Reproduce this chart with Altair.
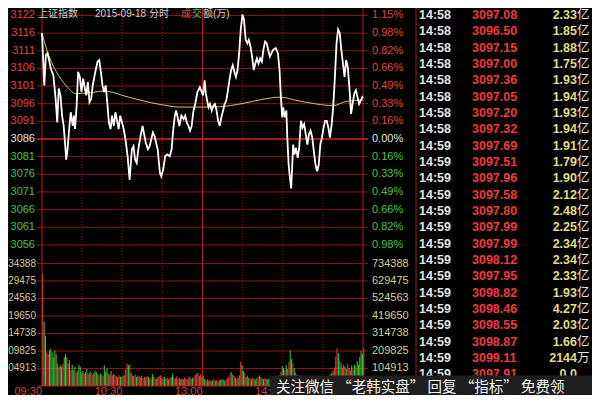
import altair as alt
import pandas as pd

W, H = 331, 378
GRID = "#8c1616"
GRID_ZERO = "#e01e1e"
BORDER = "#c01a1a"
RED = "#e0463e"
GREEN = "#47c447"
WHITE = "#e2e2e2"
KHAKI = "#d4cc98"
FONT = "Liberation Sans, Noto Sans CJK SC, sans-serif"
CJK = "Noto Sans CJK SC, sans-serif"

# ---------------- intraday price (minute from 09:30, index value) ----------------
price_min = [0, 1.7, 2.9, 4.1, 5.3, 6.5, 8.5, 10.2, 11.4, 12.5, 13.8, 15.0, 16.2, 17.4, 18.1, 19.1,
             20.5, 21.5, 23.0, 23.9, 24.7, 25.9, 27.0, 28.3, 29.5, 30.7, 31.9, 33.1, 34.3, 35.5,
             36.8, 37.9, 39.9, 41.5, 42.8, 44.0, 45.2, 46.4, 47.6, 48.8, 50.0, 51.3, 52.4, 53.7,
             54.9, 57.3, 58.5, 61.1, 62.4, 64.0, 65.5, 67.2, 68.4, 69.6, 70.8, 72.0, 73.7, 75.2,
             76.1, 77.6, 79.2, 80.5, 81.7, 82.9, 84.1, 85.3, 86.5, 87.2, 88.2, 89.2, 90.6, 92.1,
             93.7, 95.5, 96.9, 97.9, 99.3, 100.3, 101.7, 102.7, 104.2, 105.9, 107.1, 108.2, 109.5,
             110.7, 111.9, 113.1, 114.8, 116.2, 118.0, 120.4, 121.6, 122.5, 124.5, 125.6, 126.9,
             128.1, 129.3, 130.5, 131.7, 132.9, 134.1, 135.4, 136.5, 137.8, 139.0, 140.1, 141.4,
             142.6, 143.8, 145.0, 146.2, 147.4, 148.6, 149.9, 151.0, 152.3, 153.5, 154.6, 155.9,
             157.1, 158.3, 159.5, 160.7, 161.9, 163.1, 164.4, 165.5, 166.8, 168.0, 169.1, 170.4,
             171.6, 172.8, 174.7, 176.4, 177.6, 178.6, 179.6, 180.3, 181.5, 182.7, 183.4, 184.4,
             185.4, 186.3, 187.1, 187.8, 188.7, 189.9, 191.2, 192.3, 193.6, 194.8, 196.0, 197.2,
             198.4, 199.6, 200.8, 202.1, 203.2, 204.5, 205.7, 206.9, 208.1, 209.3, 210.5, 211.7,
             212.9, 214.1, 215.3, 216.6, 217.7, 219.0, 220.2, 221.4, 222.6, 223.8, 225.0, 226.2,
             227.4, 228.6, 229.8, 231.1, 232.2, 233.5, 234.7, 235.9, 237.1, 238.3, 239.5, 240]
price_val = [3116.9, 3101.6, 3110.5, 3111.0, 3109.0, 3106.6, 3104.6, 3097.7, 3090.8, 3100.7, 3098.7,
             3092.8, 3089.8, 3083.9, 3080.0, 3083.0, 3089.8, 3093.8, 3089.8, 3092.8, 3088.9, 3095.7,
             3105.6, 3104.1, 3099.7, 3103.6, 3101.1, 3098.7, 3102.6, 3096.7, 3097.7, 3101.6, 3105.6,
             3108.5, 3109.0, 3105.6, 3101.6, 3099.7, 3101.6, 3096.7, 3090.8, 3088.9, 3092.8, 3089.8,
             3093.8, 3088.9, 3092.8, 3088.9, 3085.9, 3081.0, 3074.1, 3083.0, 3083.9, 3080.0, 3079.0,
             3083.0, 3086.9, 3089.8, 3087.9, 3084.9, 3083.0, 3083.9, 3085.9, 3087.9, 3086.9, 3084.9,
             3083.0, 3080.0, 3076.1, 3075.1, 3077.1, 3081.0, 3081.5, 3081.0, 3083.0, 3087.9, 3092.8,
             3094.3, 3091.8, 3089.8, 3092.8, 3091.8, 3092.8, 3090.8, 3089.8, 3088.4, 3089.8, 3093.8,
             3096.7, 3099.7, 3101.1, 3098.7, 3103.1, 3099.2, 3095.2, 3096.2, 3094.3, 3095.7, 3096.2,
             3094.3, 3091.3, 3089.8, 3092.3, 3094.3, 3096.2, 3097.2, 3100.2, 3103.1, 3106.1, 3107.5,
             3105.6, 3104.1, 3106.1, 3111.0, 3117.9, 3122.3, 3120.8, 3114.9, 3113.9, 3114.9, 3112.9,
             3110.0, 3106.1, 3108.0, 3109.5, 3108.0, 3109.5, 3108.5, 3112.0, 3114.4, 3113.9, 3112.0,
             3110.0, 3111.0, 3112.0, 3112.5, 3111.0, 3106.1, 3098.2, 3092.3, 3095.2, 3092.3, 3094.3,
             3086.4, 3078.5, 3074.6, 3071.6, 3078.5, 3084.4, 3081.5, 3083.4, 3080.5, 3083.4, 3091.3,
             3089.3, 3090.3, 3087.4, 3084.4, 3087.4, 3088.4, 3086.4, 3082.5, 3078.5, 3076.6, 3078.5,
             3084.4, 3086.4, 3089.3, 3091.3, 3091.3, 3089.3, 3086.4, 3090.3, 3095.2, 3104.1, 3113.9,
             3117.9, 3116.9, 3112.0, 3108.0, 3104.1, 3109.0, 3107.0, 3101.1, 3093.3, 3096.2, 3099.2,
             3100.2, 3098.2, 3096.2, 3097.2, 3098.2, 3097.9]

avg_min = [0, 3.6, 8.2, 13.1, 19.1, 25.2, 31.2, 38.4, 45.7, 52.9, 60.2, 74.7, 89.2, 103.7, 120.4,
           132.7, 149.4, 166.8, 178.4, 190.7, 205.2, 217.5, 226.9, 240]
avg_val = [3116.9, 3112.0, 3107.5, 3104.1, 3101.1, 3099.2, 3099.3, 3099.6, 3100.0, 3099.6, 3098.7,
           3097.2, 3096.0, 3095.3, 3095.3, 3095.4, 3096.3, 3097.7, 3098.2, 3097.2, 3096.2, 3095.7,
           3096.9, 3097.4]

# ---------------- per-minute turnover (万) ----------------
vol = [31600, 18000, 14000, 9500, 9000, 10000, 10500, 9500, 8100, 10000,
       9000, 6300, 5400, 6000, 5400, 6300, 8100, 9000, 8100, 6300,
       7200, 4400, 6000, 4400, 5400, 3800, 4400, 6000, 5400, 3800,
       4200, 3500, 3900, 4800, 3300, 3700, 4100, 3200, 3600, 4300,
       3900, 3400, 3000, 3600, 3200, 2900, 5800, 4000, 5000, 3600,
       3200, 4200, 3000, 3400, 3100, 2800, 2600, 3000, 2700, 2500,
       2900, 3100, 4600, 6300, 5800, 6200, 3800, 3000, 2800, 3300,
       2600, 3000, 2700, 2400, 2900, 2200, 2600, 2300, 2800, 2500,
       2100, 2400, 3300, 2600, 2200, 2000, 2500, 2800, 3000, 2300,
       2100, 2500, 2000, 2300, 1900, 2200, 2600, 3300, 2400, 2100,
       2700, 2000, 2300, 1800, 2100, 1900, 2400, 2000, 1800, 2200,
       2600, 2000, 2300, 2700, 3100, 3500, 3700, 2900, 3300, 2600,
       3000, 2000, 1600, 1800, 1500, 1700, 1400, 1600, 1900, 1500,
       1700, 1300, 1800, 1600, 2000, 1700, 1500, 1800, 2200, 2600,
       3600, 3900, 3200, 2800, 2400, 2000, 2300, 3000, 6800, 5800,
       4200, 3800, 2600, 2900, 2300, 2100, 1900, 2400, 2100, 1800,
       2200, 2600, 3000, 2500, 2100, 1900, 2300, 2000, 1800, 2100,
       1900, 2200, 1800, 2400, 2000, 2300, 2600, 3000, 4000, 5600,
       5000, 4400, 5800, 4800, 6700, 10000, 7600, 6400, 5000, 3800,
       3200, 2800, 3000, 2600, 2400, 2800, 2200, 2500, 2300, 2000,
       2600, 2200, 2900, 2400, 2100, 2700, 2300, 2000, 2500, 2800,
       2400, 2200, 2600, 2300, 2900, 3200, 3600, 4200, 5200, 8200,
       10600, 9200, 7000, 6500, 5200, 6000, 5400, 4800, 6200, 5000,
       4400, 5800, 4600, 6000, 5400, 7000, 6000, 8200, 10000, 9000,
       10600]
vol_dir = ("rggrrgggrg" "grrggrgggr" "grgrgrrggr" "grggrrgrrg" "grrgrrgggr"
           "rgrgrrgrgr" "grrrgrgrgr" "grgrgrrgrg" "rrggrrgrrg" "rgrgrrggrg"
           "rrgrggrgrr" "grgrrrrgrg" "rgrgrgrgrg" "rgrggrgrrr" "rrgrgrgrrg"
           "grgrgrgrgr" "grrgrgrgrg" "rgrgrgrgrg" "grgrrggrgr" "grgrgrgrgr"
           "grgrgrgrgr" "grgrgrggrr" "rgrgrggrrg" "rgrgrggggg" "r")

# ---------------- axis levels & labels ----------------
price_levels = [3122.00, 3116.86, 3111.71, 3106.57, 3101.43, 3096.29, 3091.14, 3086.00,
                3080.86, 3075.71, 3070.57, 3065.43, 3060.29, 3055.14]
price_labels = ["3122", "3116", "3111", "3106", "3101", "3096", "3091", "3086",
                "3081", "3076", "3071", "3066", "3061", "3056"]
pct_labels = ["1.15%", "0.98%", "0.82%", "0.66%", "0.49%", "0.33%", "0.16%", "0.00%",
              "0.16%", "0.33%", "0.49%", "0.66%", "0.82%", "0.98%"]
level_side = ["up"] * 7 + ["flat"] + ["down"] * 6

vol_levels = [34388, 29475, 24563, 19650, 14738, 9825, 4913]
vol_left_labels = ["34388", "29475", "24563", "19650", "14738", "09825", "04913"]
vol_right_labels = ["734388", "629475", "524563", "419650", "314738", "209825", "104913"]

time_ticks = [0, 60, 120, 180]
time_labels = ["09:30", "10:30", "13:00", "14:00"]
dotted_minutes = [30, 60, 90, 150, 180, 210]
solid_minutes = [0, 120, 240]

# ---------------- tick table ----------------
tick_time = ["14:58"] * 8 + ["14:59"] * 15
tick_price = ["3097.08", "3096.50", "3097.15", "3097.00", "3097.36", "3097.05", "3097.20",
              "3097.32", "3097.69", "3097.51", "3097.96", "3097.58", "3097.80", "3097.99",
              "3097.99", "3098.12", "3097.95", "3098.82", "3098.46", "3098.55", "3098.87",
              "3099.11", "3097.91"]
tick_amount = ["2.33", "1.85", "1.88", "1.75", "1.93", "1.94", "1.93", "1.94", "1.91", "1.79",
               "1.90", "2.12", "2.48", "2.25", "2.34", "2.34", "2.33", "1.93", "4.27", "2.03",
               "1.66", "2144", "0.0"]
tick_unit = ["亿"] * 21 + ["万", ""]

SIDE_COLOR = {"up": RED, "flat": WHITE, "down": GREEN}
DIR_COLOR = {"r": "#ee3b3b", "g": "#3ec83e"}

# ---------------- data frames ----------------
df_price = pd.DataFrame({"m": price_min, "p": price_val})
df_avg = pd.DataFrame({"m": avg_min, "p": avg_val})
df_plev = pd.DataFrame({"lv": price_levels, "lab": price_labels, "pct": pct_labels,
                        "c": [SIDE_COLOR[s] for s in level_side],
                        "zero": [s == "flat" for s in level_side]})
df_vol = pd.DataFrame({"m": list(range(len(vol))), "v": vol,
                       "c": [DIR_COLOR[d] for d in vol_dir[:len(vol)]]})
df_vlev = pd.DataFrame({"lv": vol_levels, "l": vol_left_labels, "r": vol_right_labels})
df_time = pd.DataFrame({"m": time_ticks, "t": time_labels})
df_dot = pd.DataFrame({"m": dotted_minutes})
df_solid = pd.DataFrame({"m": solid_minutes})
df_tab = pd.DataFrame({"row": list(range(len(tick_time))), "t": tick_time, "p": tick_price,
                       "a": tick_amount, "u": tick_unit})
one = pd.DataFrame({"k": [0]})

XS = alt.Scale(domain=[0, 240], nice=False, zero=False)
PY = alt.Scale(domain=[3014.03, 3124.17], nice=False, zero=False)
VY = alt.Scale(domain=[0, 106112], nice=False, zero=False)
TY = alt.Scale(domain=[-0.4287, 22.72], nice=False, zero=False, reverse=True)

x_m = alt.X("m:Q", scale=XS, axis=None)

# ---------- price panel ----------
grid_p = alt.Chart(df_plev).transform_filter("!datum.zero").mark_rule(
    color=GRID, strokeWidth=1).encode(y=alt.Y("lv:Q", scale=PY, axis=None))
grid_p0 = alt.Chart(df_plev).transform_filter("datum.zero").mark_rule(
    color=GRID_ZERO, strokeWidth=1.6).encode(y=alt.Y("lv:Q", scale=PY, axis=None))
vgrid = alt.Chart(df_dot).mark_rule(color="#9a1a1a", strokeWidth=1, strokeDash=[1, 2]).encode(x=x_m)
vsolid = alt.Chart(df_solid).mark_rule(color=BORDER, strokeWidth=1).encode(x=x_m)
avg_line = alt.Chart(df_avg).mark_line(color="#cfc474", strokeWidth=1, interpolate="monotone").encode(
    x=x_m, y=alt.Y("p:Q", scale=PY, axis=None))
price_line = alt.Chart(df_price).mark_line(color="#ffffff", strokeWidth=1.8).encode(
    x=x_m, y=alt.Y("p:Q", scale=PY, axis=None))
lab_left = alt.Chart(df_plev).mark_text(align="right", baseline="middle", font=FONT, fontSize=11).encode(
    x=alt.value(-2), y=alt.Y("lv:Q", scale=PY, axis=None), text="lab:N",
    color=alt.Color("c:N", scale=None))
lab_right = alt.Chart(df_plev).mark_text(align="left", baseline="middle", font=FONT, fontSize=11).encode(
    x=alt.value(W + 4), y=alt.Y("lv:Q", scale=PY, axis=None), text="pct:N",
    color=alt.Color("c:N", scale=None))
time_lab = alt.Chart(df_time).mark_text(align="right", baseline="alphabetic", font=FONT, fontSize=11,
                                         color="#d8463c").encode(x=x_m, y=alt.value(H + 8.5), text="t:N")
TY0 = 1
t1 = alt.Chart(one).mark_text(text="上证指数", align="left", baseline="top", font=FONT,
                              fontSize=10, color="#d0d0d0").encode(x=alt.value(1), y=alt.value(TY0))
t2 = alt.Chart(one).mark_text(text="2015-09-18 分时", align="left", baseline="top", font=FONT,
                              fontSize=10, color="#d0d0d0").encode(x=alt.value(58), y=alt.value(TY0))
t3 = alt.Chart(one).mark_text(text="成", align="left", baseline="top", font=FONT,
                              fontSize=10, color=RED).encode(x=alt.value(144), y=alt.value(TY0))
t4 = alt.Chart(one).mark_text(text="交", align="left", baseline="top", font=FONT,
                              fontSize=10, color=GREEN).encode(x=alt.value(155), y=alt.value(TY0))
t5 = alt.Chart(one).mark_text(text="额(万)", align="left", baseline="top", font=FONT,
                              fontSize=10, color="#d0d0d0").encode(x=alt.value(166), y=alt.value(TY0))

price_group = alt.layer(grid_p, vgrid, vsolid, grid_p0, avg_line, price_line,
                        lab_left, lab_right, time_lab, t1, t2, t3, t4, t5)

# ---------- volume panel ----------
grid_v = alt.Chart(df_vlev).mark_rule(color=GRID, strokeWidth=1).encode(
    y=alt.Y("lv:Q", scale=VY, axis=None))
bars = alt.Chart(df_vol).mark_bar(width=1, xOffset=0.8).encode(
    x=x_m, y=alt.Y("v:Q", scale=VY, axis=None), color=alt.Color("c:N", scale=None))
base_v = alt.Chart(one).mark_rule(color=BORDER, strokeWidth=1).encode(
    y=alt.Y("k:Q", scale=VY, axis=None))
vl_left = alt.Chart(df_vlev).mark_text(align="right", baseline="middle", font=FONT, fontSize=10,
                                       color=KHAKI).encode(
    x=alt.value(-1), y=alt.Y("lv:Q", scale=VY, axis=None), text="l:N")
vl_right = alt.Chart(df_vlev).mark_text(align="left", baseline="middle", font=FONT, fontSize=11,
                                        color=KHAKI).encode(
    x=alt.value(W + 4), y=alt.Y("lv:Q", scale=VY, axis=None), text="r:N")
vol_group = alt.layer(grid_v, bars, base_v, vl_left, vl_right)

# ---------- tick table & overlay ----------
sep = alt.Chart(one).mark_rule(color="#a01c1c", strokeWidth=1).encode(
    x=alt.value(379), y=alt.value(0), y2=alt.value(H + 9))
ty = alt.Y("row:Q", scale=TY, axis=None)
tab_t = alt.Chart(df_tab).mark_text(align="left", baseline="middle", font=FONT, fontSize=12.5,
                                    fontWeight="bold", color="#e4e4e4").encode(
    x=alt.value(382), y=ty, text="t:N")
tab_p = alt.Chart(df_tab).mark_text(align="left", baseline="middle", font=FONT, fontSize=12.5,
                                    fontWeight="bold", color="#f03a3a").encode(
    x=alt.value(435), y=ty, text="p:N")
tab_a = alt.Chart(df_tab).mark_text(align="right", baseline="middle", font=FONT, fontSize=12.5,
                                    fontWeight="bold", color="#e2dc86").encode(
    x=alt.value(540), y=ty, text="a:N")
tab_u = alt.Chart(df_tab).transform_filter("datum.u != ''").mark_text(
    align="left", baseline="middle", font=CJK, fontSize=12.5, color="#e4e4e4").encode(
    x=alt.value(540), y=ty, text="u:N")
band = alt.Chart(one).mark_rect(color="#1e1e1e").encode(
    x=alt.value(233), x2=alt.value(W + 240), y=alt.value(367.5), y2=alt.value(H + 20))
wm = alt.Chart(one).mark_text(text="关注微信 “老韩实盘” 回复 “指标” 免费领", align="left",
                              baseline="middle", font=CJK, fontSize=14.5,
                              color="#f4f4f4").encode(x=alt.value(239), y=alt.value(379.5))
table_group = alt.layer(sep, tab_t, tab_p, tab_a, tab_u, band, wm)

chart = alt.layer(price_group, vol_group, table_group).resolve_scale(y="independent").properties(
    width=W, height=H,
    autosize=alt.AutoSizeParams(type="none"),
    padding={"left": 29, "top": 0, "right": 224, "bottom": 9},
).configure(background="#000000").configure_view(stroke=None)

chart.save("out.html", embed_options={"renderer": "svg", "actions": False})
